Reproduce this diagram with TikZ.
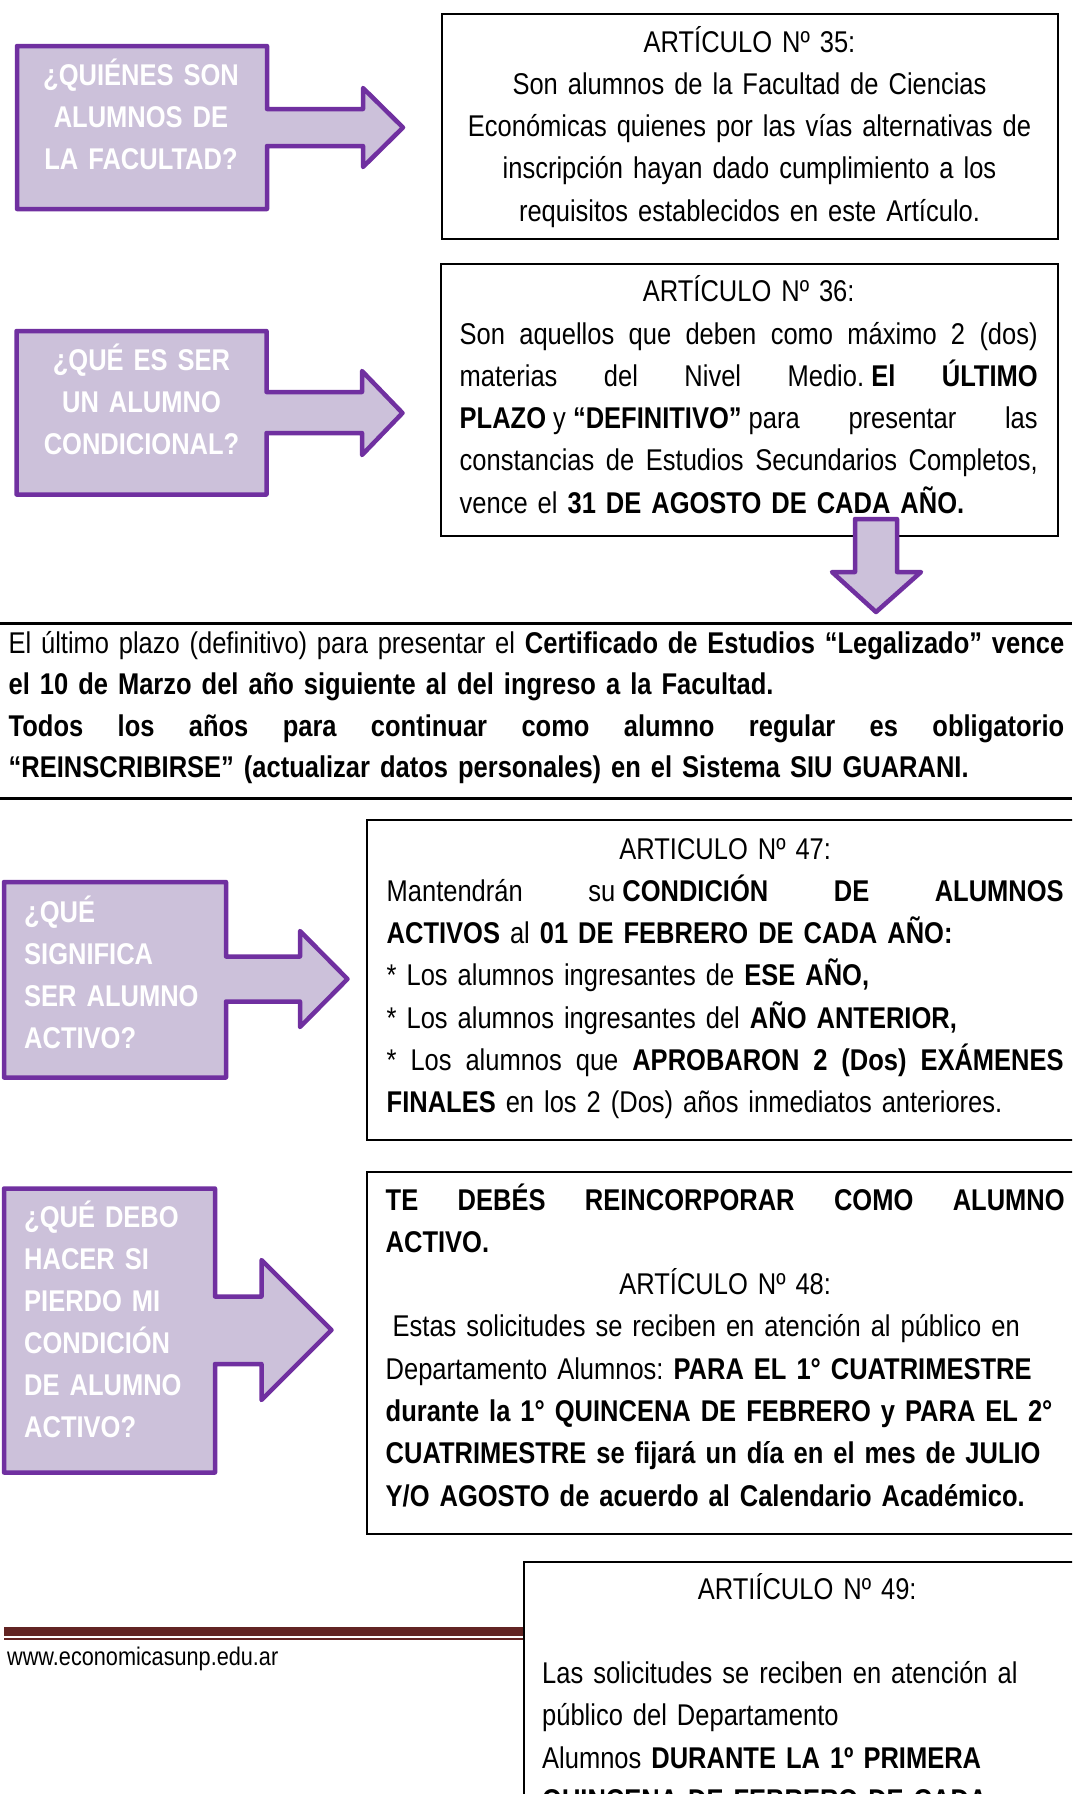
\documentclass[tikz,border=0pt]{standalone}
\usepackage{fontspec}
\setmainfont{Liberation Sans}[FakeStretch=0.85]
\usetikzlibrary{positioning}

\definecolor{lila}{HTML}{CCC1DA}
\definecolor{morado}{HTML}{7030A0}
\definecolor{granate}{HTML}{622423}

% one justified line / one centred line
\newcommand{\jl}[1]{{\spaceskip=\fontdimen2\font plus 1fil minus .15em\relax
  \makebox[\linewidth][s]{#1}}}
\newcommand{\cl}[1]{\makebox[\linewidth]{#1}}

\begin{document}
\frenchspacing
\begin{tikzpicture}[x=1pt,y=-1pt,
    body font/.style={font=\fontsize{30}{42.3}\selectfont},
    art text/.style={body font,inner sep=0pt,anchor=base west,align=left},
    ask text/.style={font=\fontsize{30}{42}\selectfont\bfseries,text=white,inner sep=0pt},
    callout/.style={draw=morado,fill=lila,line width=4.5pt,line join=round},
    art box/.style={draw,fill=white,line width=2pt},
    sep line/.style={line width=2.7pt}]
  \useasboundingbox (0,0) rectangle (1072,1794);
  \clip (0,0) rectangle (1072,1794);

  % question callouts
  \draw[callout] (17,46) -- (267,46) -- (267,109) -- (363,109) -- (363,88) -- (403,127.5)
    -- (363,167) -- (363,146) -- (267,146) -- (267,209) -- (17,209) -- cycle;
  \draw[callout] (16.5,331) -- (266.5,331) -- (266.5,392) -- (362,392) -- (362,371) -- (402.5,413)
    -- (362,455) -- (362,433) -- (266.5,433) -- (266.5,494.5) -- (16.5,494.5) -- cycle;
  \draw[callout] (4,882) -- (226,882) -- (226,956.5) -- (300,956.5) -- (300,931) -- (347.5,979)
    -- (300,1027) -- (300,1001.5) -- (226,1001.5) -- (226,1077.5) -- (4,1077.5) -- cycle;
  \draw[callout] (4,1188.5) -- (215,1188.5) -- (215,1296.5) -- (261.5,1296.5) -- (261.5,1260) -- (331.5,1330)
    -- (261.5,1400) -- (261.5,1364) -- (215,1364) -- (215,1472.5) -- (4,1472.5) -- cycle;

  \node[ask text,text width=240pt,align=center,anchor=base] (q1) at (141,85.5)
    {¿QUIÉNES SON\\ALUMNOS DE\\LA FACULTAD?};
  \node[ask text,text width=240pt,align=center,anchor=base] (q2) at (141.5,370)
    {¿QUÉ ES SER\\UN ALUMNO\\CONDICIONAL?};
  \node[ask text,text width=200pt,align=left,anchor=base west] (q3) at (24,922)
    {¿QUÉ\\SIGNIFICA\\SER ALUMNO\\ACTIVO?};
  \node[ask text,text width=190pt,align=left,anchor=base west] (q4) at (24,1227)
    {¿QUÉ DEBO\\HACER SI\\PIERDO MI\\CONDICIÓN\\DE ALUMNO\\ACTIVO?};

  % article boxes
  \draw[art box] (442,14) rectangle (1057.5,238.5);
  \draw[art box] (440.5,263.5) rectangle (1057.5,536);
  \draw[art box] (367,820) rectangle (1090,1140);
  \draw[art box] (366.5,1172) rectangle (1090,1533.5);

  \node[art text,text width=600pt,align=center,anchor=base] (art35) at (749.5,52)
    {ARTÍCULO Nº 35:\\
     Son alumnos de la Facultad de Ciencias\\
     Económicas quienes por las vías alternativas de\\
     inscripción hayan dado cumplimiento a los\\
     requisitos establecidos en este Artículo.};

  \node[art text,text width=578pt] (art36) at (459.5,301.7)
    {\cl{ARTÍCULO Nº 36:}\\
     \jl{Son aquellos que deben como máximo 2 (dos)}\\
     \jl{materias del Nivel \mbox{Medio. \textbf{El}} \textbf{ÚLTIMO}}\\
     \jl{\mbox{\textbf{PLAZO} y \textbf{“DEFINITIVO”} para} presentar las}\\
     \jl{constancias de Estudios Secundarios Completos,}\\
     vence el \textbf{31 DE AGOSTO DE CADA AÑO.}};

  % arrow down to the note
  \draw[callout] (855,519) -- (897,519) -- (897,572) -- (921,572) -- (876,612)
    -- (832,572) -- (855,572) -- cycle;

  % note between the two rules
  \draw[sep line] (0,623.3) -- (1072,623.3);
  \draw[sep line] (0,798.3) -- (1072,798.3);
  \node[art text,font=\fontsize{30}{41.5}\selectfont,text width=1055.5pt] (nota) at (8.5,653)
    {\jl{El último plazo (definitivo) para presentar el \textbf{Certificado de Estudios “Legalizado” vence}}\\
     \textbf{el 10 de Marzo del año siguiente al del ingreso a la Facultad.}\\
     \jl{\textbf{Todos los años para continuar como alumno regular es obligatorio}}\\
     \textbf{“REINSCRIBIRSE” (actualizar datos personales) en el Sistema SIU GUARANI.}};

  \node[art text,text width=677pt] (art47) at (386.5,859)
    {\cl{ARTICULO Nº 47:}\\
     \jl{Mantendrán \mbox{su \textbf{CONDICIÓN}} \textbf{DE ALUMNOS}}\\
     \textbf{ACTIVOS} al \textbf{01 DE FEBRERO DE CADA AÑO:}\\
     {*} Los alumnos ingresantes de \textbf{ESE AÑO,}\\
     {*} Los alumnos ingresantes del \textbf{AÑO ANTERIOR,}\\
     \jl{{*} Los alumnos que \textbf{APROBARON 2 (Dos) EXÁMENES}}\\
     \textbf{FINALES} en los 2 (Dos) años inmediatos anteriores.};

  \node[art text,text width=679pt] (art48) at (385.5,1210)
    {\jl{\textbf{TE DEBÉS REINCORPORAR COMO ALUMNO}}\\
     \textbf{ACTIVO.}\\
     \cl{ARTÍCULO Nº 48:}\\
     \hspace*{7pt}Estas solicitudes se reciben en atención al público en\\
     Departamento Alumnos: \textbf{PARA EL 1° CUATRIMESTRE}\\
     \textbf{durante la 1° QUINCENA DE FEBRERO y PARA EL 2°}\\
     \textbf{CUATRIMESTRE se fijará un día en el mes de JULIO}\\
     \textbf{Y/O AGOSTO de acuerdo al Calendario Académico.}};

  % footer
  \fill[granate] (3.5,1626.7) rectangle (523,1636);
  \fill[granate] (3.5,1637.5) rectangle (523,1639.5);
  \node[font=\fontsize{25.5}{30}\selectfont,inner sep=0pt,anchor=base west] (web) at (7,1665)
    {www.economicasunp.edu.ar};

  \draw[art box] (524,1561.5) rectangle (1090,1850);
  \node[art text,text width=530pt] (art49) at (542,1599)
    {\cl{ARTIÍCULO Nº 49:}\\[42.3pt]
     Las solicitudes se reciben en atención al\\
     público del Departamento\\
     Alumnos \textbf{DURANTE LA 1º PRIMERA}\\
     \textbf{QUINCENA DE FEBRERO DE CADA}};
\end{tikzpicture}
\end{document}
